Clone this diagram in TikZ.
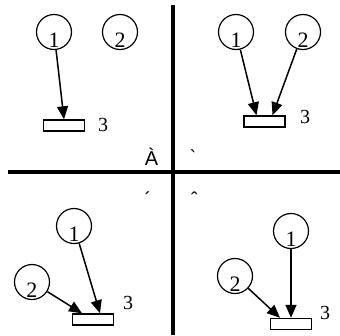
\documentclass[tikz,border=0pt]{standalone}
\usepackage{fontspec}
\setmainfont{Liberation Serif}
\newfontfamily\marksans{Liberation Sans}
\usetikzlibrary{calc,arrows.meta}
\tikzset{
  axis/.style={draw=black, line width=4pt},
  ball/.style={circle, draw=black, line width=1.2pt, minimum size=35pt, inner sep=0pt,
    text height=31pt, text depth=0pt, font=\fontsize{22}{22}\selectfont},
  slab/.style={rectangle, draw=black, line width=1.4pt, minimum width=41pt,
    minimum height=11pt, inner sep=0pt},
  push/.style={draw=black, line width=1.5pt, -{Triangle[length=13pt,width=11pt]}},
  num/.style={font=\fontsize{20}{20}\selectfont, inner sep=0pt},
  glyph/.style={font=\marksans\fontsize{20}{20}\selectfont, inner sep=0pt, anchor=base}
}

\begin{document}
\begin{tikzpicture}[x=1pt, y=-1pt]
  \useasboundingbox (0,0) rectangle (340,335);

  % cross
  \draw[axis] (173,5) -- (173,335);
  \draw[axis] (8,172) -- (340,172);

  % top left
  \node[ball] (tl1) at (54,32) {1};
  \node[ball] (tl2) at (120,32) {2};
  \node[slab] (tlr) at (64,125.5) {};
  \node[num] (tl3) at (103,125) {3};
  \draw[push] (tl1) -- (tlr.north);

  % top right
  \node[ball] (tr1) at (236,32) {1};
  \node[ball] (tr2) at (303,32) {2};
  \node[slab] (trr) at (264.5,121.5) {};
  \node[num] (tr3) at (305,117) {3};
  \draw[push] (tr1) -- ($(trr.north)+(-8,0)$);
  \draw[push] (tr2) -- ($(trr.north)+(8,0)$);

  % bottom left
  \node[ball] (bl1) at (74,226) {1};
  \node[ball] (bl2) at (32,282) {2};
  \node[slab] (blr) at (93,319.5) {};
  \node[num] (bl3) at (128,303) {3};
  \draw[push] (bl1) -- ($(blr.north)+(7,0)$);
  \draw[push] (bl2) -- ($(blr.north)+(-11,0)$);

  % bottom right
  \node[ball] (br1) at (291,231) {1};
  \node[ball] (br2) at (235,276) {2};
  \node[slab] (brr) at (291,324) {};
  \node[num] (br3) at (325,313) {3};
  \draw[push] (br1) -- (brr.north);
  \draw[push] (br2) -- ($(brr.north)+(-11,0)$);

  % quadrant marks
  \node[glyph] (q1) at (151.5,165) {À};
  \node[glyph] (q2) at (193,164) {`};
  \node[glyph] (q3) at (148,206) {´};
  \node[glyph] (q4) at (194.5,206) {ˆ};
\end{tikzpicture}
\end{document}
